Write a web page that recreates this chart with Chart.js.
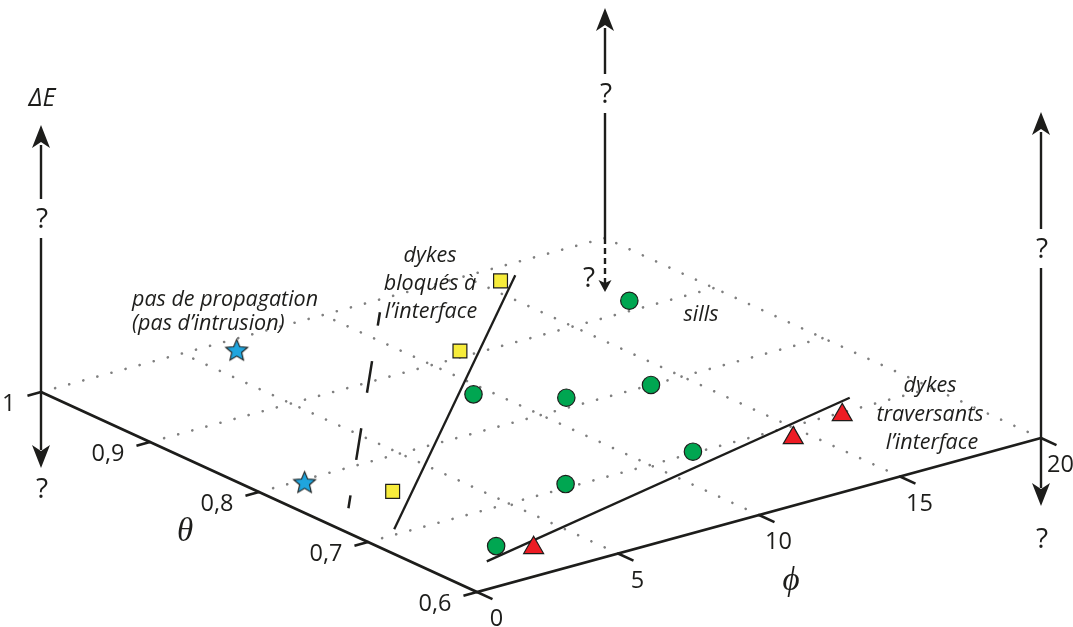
<!DOCTYPE html>
<html>
<head>
<meta charset="utf-8">
<script src="https://cdn.jsdelivr.net/npm/chart.js@4"></script>
<style>
  html, body { margin: 0; padding: 0; background: #fff; }
  #wrap { width: 1073px; height: 627px; }
</style>
</head>
<body>
<div id="wrap"><canvas id="chart" width="1073" height="627"></canvas></div>
<script>
// ticks of the two plane axes
const thetaTicks = [0.6, 0.7, 0.8, 0.9, 1];
const thetaTickLabels = ['0,6', '0,7', '0,8', '0,9', '1'];
const phiTicks = [0, 5, 10, 15, 20];
const phiTickLabels = ['0', '5', '10', '15', '20'];

// experiments, as (phi, theta)
const sillPhi = [2.65, 7.2, 11.6, 9.5, 11.4, 13.9, 17.5];
const sillTheta = [0.651, 0.705, 0.702, 0.849, 0.813, 0.800, 0.913];
const crossingPhi = [3.4, 14.5, 16.7];
const crossingTheta = [0.636, 0.685, 0.697];
const blockedPhi = [3.0, 11.3, 15.6];
const blockedTheta = [0.755, 0.908, 0.982];
const noPropPhi = [1.5, 6.4];
const noPropTheta = [0.797, 0.986];

// regime limits (end points)
const blockedLimitPhi = [1.2, 16.2];
const blockedLimitTheta = [0.707, 0.984];
const crossingLimitPhi = [1.7, 17.7];
const crossingLimitTheta = [0.635, 0.716];
const noPropLimitPhi = [1.2, 11.4];
const noPropLimitTheta = [0.749, 0.984];

const INK = '#1d1d1b';

// oblique view of the (phi, theta) plane
const ORIGIN = { x: 477, y: 592 };
const PHI_UNIT = { x: 564 / 20, y: -154 / 20 };
const THETA_UNIT = { x: -436 / 0.4, y: -200 / 0.4 };
const TICK_PHI = 0.48;
const TICK_THETA = 0.0142;

function project(phi, theta) {
  const t = theta - 0.6;
  return {
    x: ORIGIN.x + phi * PHI_UNIT.x + t * THETA_UNIT.x,
    y: ORIGIN.y + phi * PHI_UNIT.y + t * THETA_UNIT.y,
  };
}
const pts = (phis, thetas) => phis.map((p, i) => project(p, thetas[i]));

function starImage(r, fill) {
  const size = Math.ceil(r * 2 + 4);
  const c = document.createElement('canvas');
  c.width = c.height = size;
  const g = c.getContext('2d');
  g.translate(size / 2, size / 2 + r * 0.1);
  g.beginPath();
  for (let i = 0; i < 10; i++) {
    const rr = i % 2 ? r * 0.45 : r;
    const a = -Math.PI / 2 + i * Math.PI / 5;
    g.lineTo(rr * Math.cos(a), rr * Math.sin(a));
  }
  g.closePath();
  g.fillStyle = fill;
  g.fill();
  g.lineWidth = 1.1;
  g.strokeStyle = INK;
  g.stroke();
  return c;
}

const gridStyle = {
  showLine: true, borderColor: '#7f7f7f', borderWidth: 2.6, borderDash: [0.1, 14.5],
  borderCapStyle: 'round', pointRadius: 0, order: 3,
};
const inkLine = { showLine: true, borderColor: INK, pointRadius: 0, order: 1 };

const datasets = [];
thetaTicks.slice(1).forEach((t) => datasets.push({ ...gridStyle, data: [project(0, t), project(20, t)] }));
phiTicks.slice(1).forEach((p) => datasets.push({ ...gridStyle, data: [project(p, 0.6), project(p, 1)] }));

// axes and ticks
datasets.push({ ...inkLine, borderWidth: 2.8, data: [project(0, 1), project(0, 0.6), project(20, 0.6)] });
thetaTicks.forEach((t) => datasets.push({ ...inkLine, borderWidth: 2.6, data: [project(0, t), project(-TICK_PHI, t)] }));
phiTicks.forEach((p) => datasets.push({ ...inkLine, borderWidth: 2.6, data: [project(p, 0.6), project(p, 0.6 - TICK_THETA)] }));

// regime limits
datasets.push({ ...inkLine, borderWidth: 2.3, data: pts(blockedLimitPhi, blockedLimitTheta) });
datasets.push({ ...inkLine, borderWidth: 2.3, data: pts(crossingLimitPhi, crossingLimitTheta) });
datasets.push({ ...inkLine, borderWidth: 2.5, borderDash: [32, 36], borderDashOffset: 19, data: pts(noPropLimitPhi, noPropLimitTheta) });

// experiments
const marker = { borderColor: INK, borderWidth: 1.2, order: 0 };
datasets.push({ ...marker, label: 'sills', data: pts(sillPhi, sillTheta), pointStyle: 'circle', pointRadius: 8.7, backgroundColor: '#00A651' });
datasets.push({ ...marker, label: 'dykes traversants', data: pts(crossingPhi, crossingTheta), pointStyle: 'triangle', pointRadius: 11.5, backgroundColor: '#ED1C24' });
datasets.push({ ...marker, label: 'dykes bloqués', data: pts(blockedPhi, blockedTheta), pointStyle: 'rect', pointRadius: 9.8, backgroundColor: '#F7EC3B' });
datasets.push({ ...marker, label: 'pas de propagation', data: pts(noPropPhi, noPropTheta), pointStyle: starImage(11.5, '#1FA5DE'), pointRadius: 11.5 });

// vertical ΔE arrows at three corners of the plane (offsets in px)
const verticals = [
  { phi: 0, theta: 1, up: 267, qUp: 174, down: 76, qDown: 96, dashed: false },
  { phi: 20, theta: 1, up: 230, qUp: 145, down: 54, qDown: 39, dashed: true },
  { phi: 20, theta: 0.6, up: 326, qUp: 190, down: 68, qDown: 100, dashed: false },
];

function head(ctx, x, tipY, dir, w, h, notch) {
  ctx.beginPath();
  ctx.moveTo(x, tipY);
  ctx.lineTo(x - w / 2, tipY - dir * h);
  ctx.lineTo(x, tipY - dir * (h - notch));
  ctx.lineTo(x + w / 2, tipY - dir * h);
  ctx.closePath();
  ctx.fill();
}
function seg(ctx, x, y1, y2, dash) {
  ctx.setLineDash(dash || []);
  ctx.beginPath();
  ctx.moveTo(x, y1);
  ctx.lineTo(x, y2);
  ctx.stroke();
  ctx.setLineDash([]);
}

const decor = {
  id: 'decor',
  afterDatasetsDraw(chart) {
    const { ctx, scales: { x, y } } = chart;
    const at = (phi, theta) => {
      const p = project(phi, theta);
      return { x: x.getPixelForValue(p.x), y: y.getPixelForValue(p.y) };
    };
    ctx.save();
    ctx.fillStyle = INK;
    ctx.strokeStyle = INK;
    ctx.textBaseline = 'alphabetic';

    // tick labels
    ctx.font = '23.5px "Open Sans"';
    ctx.textAlign = 'right';
    thetaTicks.forEach((t, i) => {
      const p = at(-TICK_PHI, t);
      ctx.fillText(thetaTickLabels[i], p.x - 12, p.y + 15);
    });
    ctx.textAlign = 'center';
    phiTicks.forEach((v, i) => {
      const p = at(v, 0.6 - TICK_THETA);
      ctx.fillText(phiTickLabels[i], p.x + 4, p.y + 27);
    });

    // axis titles
    ctx.font = 'italic 33px "Liberation Serif"';
    ctx.textBaseline = 'middle';
    const th = at(0, 0.8);
    ctx.fillText('θ', th.x - 74, th.y + 40);
    const ph = at(10, 0.6);
    ctx.fillText('ϕ', ph.x + 32, ph.y + 66);
    ctx.textBaseline = 'alphabetic';
    ctx.font = 'italic 25px "Open Sans"';
    const c0 = at(0, 1);
    ctx.fillText('ΔE', c0.x + 1, c0.y - 286);

    // vertical arrows
    ctx.lineWidth = 2.4;
    ctx.font = '28px "Open Sans"';
    const q = 28 * 0.36;
    verticals.forEach((v) => {
      const c = at(v.phi, v.theta);
      const tip = c.y - v.up;
      seg(ctx, c.x, c.y, c.y - v.qUp + 20);
      seg(ctx, c.x, c.y - v.qUp - 19, tip + 20);
      head(ctx, c.x, tip, -1, 18, 23, 6);
      ctx.fillText('?', c.x + 1, c.y - v.qUp + q);
      if (v.dashed) {
        seg(ctx, c.x, c.y, c.y + v.down - 8, [6, 4]);
        head(ctx, c.x, c.y + v.down, 1, 13, 12, 3);
        ctx.fillText('?', c.x - 16, c.y + v.qDown + q);
      } else {
        seg(ctx, c.x, c.y, c.y + v.down - 18);
        head(ctx, c.x, c.y + v.down, 1, 18, 23, 6);
        ctx.fillText('?', c.x + 1, c.y + v.qDown + q);
      }
    });

    // regime names
    ctx.font = 'italic 21.5px "Open Sans"';
    ctx.textAlign = 'left';
    ctx.fillText('pas de propagation', 132, 306);
    ctx.fillText('(pas d’intrusion)', 132, 330);
    ctx.textAlign = 'center';
    ctx.fillText('dykes', 430, 262);
    ctx.fillText('bloqués à', 430, 290);
    ctx.fillText('l’interface', 431, 318);
    ctx.fillText('sills', 701, 321);
    ctx.fillText('dykes', 930, 392);
    ctx.fillText('traversants', 930, 421);
    ctx.fillText('l’interface', 932, 449);
    ctx.restore();
  },
};

new Chart(document.getElementById('chart'), {
  type: 'scatter',
  data: { datasets },
  options: {
    responsive: false,
    animation: false,
    events: [],
    layout: { padding: 0, autoPadding: false },
    plugins: { legend: { display: false }, tooltip: { enabled: false } },
    scales: {
      x: { type: 'linear', min: 0, max: 1073, display: false },
      y: { type: 'linear', min: 0, max: 627, reverse: true, display: false },
    },
  },
  plugins: [decor],
});
</script>
</body>
</html>
